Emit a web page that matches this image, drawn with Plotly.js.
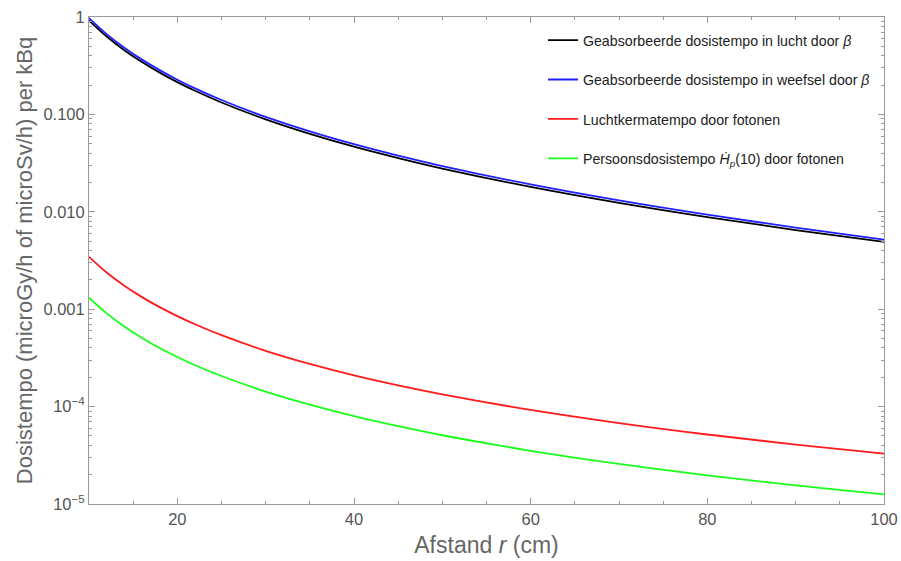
<!DOCTYPE html>
<html>
<head>
<meta charset="utf-8">
<script src="https://cdn.plot.ly/plotly-3.0.1.min.js"></script>
<style>html,body{margin:0;padding:0;background:#fff;}#chart{width:901px;height:561px;}</style>
</head>
<body>
<div id="chart"></div>
<script>
// distance r (cm)
const r = [10, 12, 14, 16, 18, 20, 22, 25, 30, 35, 40, 45, 50, 60, 70, 80, 90, 100];
// absorbed dose rate in air by beta
const airBeta = [0.920, 0.630, 0.4565, 0.3447, 0.2686, 0.2145, 0.1748, 0.1326, 0.0889, 0.0631, 0.0466, 0.0356, 0.0278, 0.0180, 0.01234, 0.00881, 0.00649, 0.0049];
// absorbed dose rate in tissue by beta
const tissueBeta = [0.975, 0.668, 0.484, 0.365, 0.285, 0.227, 0.185, 0.1405, 0.0942, 0.0669, 0.0494, 0.0377, 0.0295, 0.0191, 0.01308, 0.00934, 0.00688, 0.00519];
// air kerma rate by photons
const airKerma = [0.00345, 0.00238, 0.00174, 0.00133, 0.00105, 0.000848, 0.000700, 0.000541, 0.000374, 0.000274, 0.000209, 0.000165, 0.0001335, 0.0000924, 0.0000677, 0.0000517, 0.0000407, 0.0000329];
// personal dose equivalent rate Hp(10) by photons
const hp10 = [0.00131, 0.000905, 0.000663, 0.000507, 0.000399, 0.000323, 0.000266, 0.000206, 0.0001425, 0.0001045, 0.0000798, 0.0000629, 0.0000508, 0.0000352, 0.0000258, 0.0000197, 0.0000155, 0.00001255];

const seriesNames = [
  'Geabsorbeerde dosistempo in lucht door <i>β</i>',
  'Geabsorbeerde dosistempo in weefsel door <i>β</i>',
  'Luchtkermatempo door fotonen',
  'Persoonsdosistempo <i>Ḣ</i><sub><i>p</i></sub>(10) door fotonen'
];
const seriesColors = ['#000000', '#1f1fff', '#ff1a1a', '#19ff19'];
const seriesData = [airBeta, tissueBeta, airKerma, hp10];

const yTickVals = [1e-5, 1e-4, 1e-3, 1e-2, 1e-1, 1];
const yTickText = ['10<sup>−5</sup>', '10<sup>−4</sup>', '0.001', '0.010', '0.100', '1'];
const xTickVals = [20, 40, 60, 80, 100];

const yMinor = [];
for (let e = -5; e < 0; e++) for (let d = 2; d <= 9; d++) yMinor.push(d * Math.pow(10, e));
const xMinor = [];
for (let v = 10; v <= 100; v += 5) if (v % 20 !== 0) xMinor.push(v);

const traces = seriesData.map((ys, i) => ({
  x: r, y: ys, type: 'scatter', mode: 'lines',
  name: seriesNames[i], legendgroup: 'g' + i,
  line: {color: seriesColors[i], width: 1.8, shape: 'spline', smoothing: 1}
}));

const gray = '#9a9a9a';
const layout = {
  width: 901, height: 561,
  margin: {l: 89, r: 17, t: 17, b: 57},
  paper_bgcolor: '#fff', plot_bgcolor: '#fff',
  font: {family: 'Liberation Sans, Arial, sans-serif', color: '#555'},
  showlegend: true,
  legend: {x: 0.571, y: 0.985, xanchor: 'left', yanchor: 'top',
    font: {size: 14.2, color: '#222'}, tracegroupgap: 18, bgcolor: 'rgba(0,0,0,0)'},
  xaxis: {
    range: [10, 100], tickmode: 'array', tickvals: xTickVals,
    ticks: 'inside', ticklen: 6, tickcolor: gray, tickwidth: 1,
    showline: true, linecolor: gray, linewidth: 1, mirror: 'ticks',
    showgrid: false, zeroline: false,
    tickfont: {size: 16.5, color: '#555'},
    minor: {tickmode: 'array', tickvals: xMinor, ticks: 'inside', ticklen: 3, tickcolor: gray, showgrid: false},
    title: {text: 'Afstand <i>r</i> (cm)', font: {size: 23, color: '#666'}, standoff: 10}
  },
  yaxis: {
    type: 'log', range: [-5, 0], tickmode: 'array', tickvals: yTickVals, ticktext: yTickText,
    ticks: 'inside', ticklen: 6, tickcolor: gray, tickwidth: 1,
    showline: true, linecolor: gray, linewidth: 1, mirror: 'ticks',
    showgrid: false, zeroline: false,
    tickfont: {size: 16.5, color: '#555'},
    minor: {tickmode: 'array', tickvals: yMinor, ticks: 'inside', ticklen: 3, tickcolor: gray, showgrid: false},
    title: {text: 'Dosistempo (microGy/h of microSv/h) per kBq', font: {size: 22, color: '#666'}, standoff: 4}
  }
};

Plotly.newPlot('chart', traces, layout, {displayModeBar: false, staticPlot: true});
</script>
</body>
</html>
